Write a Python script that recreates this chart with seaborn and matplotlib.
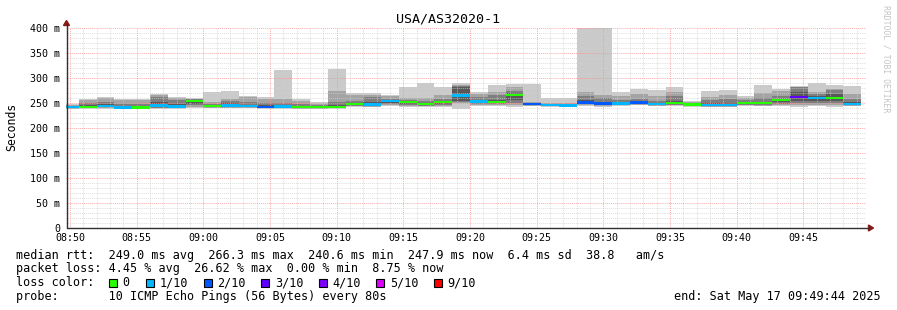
import numpy as np
import pandas as pd
import matplotlib
matplotlib.use("Agg")
import matplotlib.pyplot as plt
import seaborn as sns
from matplotlib.lines import Line2D
from matplotlib.patches import Rectangle, Polygon
from matplotlib.ticker import MultipleLocator, FuncFormatter

# ---------------- data ----------------
title = "USA/AS32020-1"
sample_start = pd.date_range("2025-05-17 08:49:20", periods=45, freq="80s")
step_seconds = 80

ping1 = [238,239,239,238,238,239,239,240,240,240,240,239,239,238,238,239,243,242,244,243,243,243,239,244,244,243,244,243,242,244,243,245,246,244,245,243,242,242,245,244,245,243,244,243,244]
ping2 = [239,240,240,239,239,240,240,242,241,241,241,240,240,239,239,240,244,243,246,245,244,245,250,246,246,246,245,244,243,246,245,246,247,245,246,244,243,243,246,245,246,246,246,246,245]
ping3 = [240,241,242,240,240,241,241,246,242,243,242,241,241,240,240,241,245,244,248,247,245,247,252,248,248,250,246,244.5,243.5,248,246,247,248,246,247,245,244,244,247,247,249,250,250,250,246]
ping4 = [241,241.5,243,241,241,243,242,249,243,244,243,242,242,241,241,241.5,246,245,250,249,247,249,255,250,250,256,247,245,244,250,248,248,249,247,248,246,245,245,248,248,252,255,255,255,247]
ping5 = [242,242,244,241,241,244,243,253,244,245,244,242,242.5,242,242,242,248,247,253,251.5,248,251.5,264.5,252.5,251.5,265.5,247.5,245.5,244.5,251,249,249,251,248,250,246.5,246,246,250,250,255.5,261,259.5,260,247.5]
ping6 = [242,242.5,245,242,242,246,243.5,255,244.5,246,244.5,243,243,242.5,242.5,242.5,248.5,247.5,254,252.5,248.5,252,265.5,253,252.5,266.5,248,246,245,251.5,249.5,249.5,251.5,248.5,250.5,247,246.5,246.5,250.5,250.5,256.5,262,260.5,261,248]
ping7 = [243,246,248,244,245,252,248,256,246,250,247,246,246,244,244,246,251,252,256,254,251,254,282,256,256,270,249,247,246,256,253,252,254,251,254,248,250,251,253,253,259,272,264,268,252]
ping8 = [244,250,252,248,249,262,256,258,249,255,252,251,251,248,246,252,254,262,259,257,255,258,285,262,266,275,251,249,248,265,260,256,258,255,264,250,256,258,256,260,265,282,268,276,258]
ping9 = [246,256,260,256,256,266,260,259,252,259,262,258,259,255,249,274,266,266,264,260,260,266,287,268,273,282,253,251,250,273,266,264,269,265,272,252,262,266,260,271,275,283,273,279,268]
ping10 = [249,258,262,259,259,269,262,260,273,275,264,262,317,259,252,319,271,270,267,282,290,283,290,272,286,289,288,261,261,420,420,273,279,277,282,254,274,277,264,286,279,284,290,286,284]

median_rtt = [242,242,244.5,241.3,241.3,245,243,254.3,244,245.3,244,242.4,242.7,242,242,242,248,247,253.6,252,248.3,251.6,265,252.7,252,266,247.7,245.6,244.7,251,249,249.3,251,248.3,250,246.7,246,246,250.3,250,256,261.6,260,260.4,247.6]
loss_count = [1,0,1,1,0,1,1,0,0,1,1,2,1,0,0,0,0,1,1,0,0,0,1,1,0,0,2,1,1,2,2,1,2,1,0,0,1,1,0,0,0,3,1,0,1]

loss_labels = ["0", "1/10", "2/10", "3/10", "4/10", "5/10", "9/10"]
loss_keys = [0, 1, 2, 3, 4, 5, 9]
loss_hex = ["#26ff00", "#00b8ff", "#0059ff", "#5e00ff", "#7e00ff", "#dd00ff", "#ff0000"]

y_ticks = [0, 50, 100, 150, 200, 250, 300, 350, 400]

stats_rtt = "median rtt:  249.0 ms avg  266.3 ms max  240.6 ms min  247.9 ms now  6.4 ms sd  38.8   am/s"
stats_loss = "packet loss: 4.45 % avg  26.62 % max  0.00 % min  8.75 % now"
probe_text = "probe:       10 ICMP Echo Pings (56 Bytes) every 80s"
end_text = "end: Sat May 17 09:49:44 2025"
watermark = "RRDTOOL / TOBI OETIKER"

# ---------------- build table ----------------
ref = pd.Timestamp("2025-05-17 08:50:00")
df = pd.DataFrame({
    "start": (sample_start - ref).total_seconds(),
    "p1": ping1, "p2": ping2, "p3": ping3, "p4": ping4, "p5": ping5,
    "p6": ping6, "p7": ping7, "p8": ping8, "p9": ping9, "p10": ping10,
    "median": median_rtt, "loss": loss_count,
})
color_of_loss = dict(zip(loss_keys, loss_hex))

# ---------------- figure ----------------
sns.set_theme(style="white")
plt.rcParams['font.family'] = ['DejaVu Sans Mono', 'DejaVu Sans']

W, H = 897, 310
fig = plt.figure(figsize=(W / 100, H / 100), dpi=100)
fig.patch.set_facecolor("white")
ax = fig.add_axes([66.4 / W, (H - 228) / H, 800 / W, 200 / H])
ax.set_facecolor("white")

# smoke bands (SmokePing style)
smoke_grays = ["#cacaca", "#a4a4a4", "#7e7e7e", "#585858", "#323232"]
for i, g in enumerate(smoke_grays):
    lo = df[f"p{i + 1}"]
    hi = df[f"p{10 - i}"]
    ax.bar(df["start"], hi - lo, bottom=lo, width=step_seconds, align="edge",
           color=g, linewidth=0, zorder=1)

# median line coloured by loss
med_h = 5.0
ax.bar(df["start"], med_h, bottom=df["median"] - med_h / 2, width=step_seconds,
       align="edge", color=[color_of_loss[l] for l in df["loss"]],
       linewidth=0, zorder=3)

ax.set_xlim(-16, 3584)
ax.set_ylim(0, 400)

ax.yaxis.set_major_locator(MultipleLocator(50))
ax.yaxis.set_minor_locator(MultipleLocator(10))
ax.xaxis.set_major_locator(MultipleLocator(300))
ax.xaxis.set_minor_locator(MultipleLocator(60))
ax.set_yticks(y_ticks)
ax.yaxis.set_major_formatter(FuncFormatter(lambda v, p: "0" if v == 0 else f"{int(v)} m"))
ax.xaxis.set_major_formatter(FuncFormatter(
    lambda v, p: (ref + pd.Timedelta(seconds=v)).strftime("%H:%M")))

ax.set_axisbelow(False)
ax.grid(which="minor", color="#d0d0d0", linestyle=(0, (1, 1)), linewidth=0.7, alpha=0.7)
ax.grid(which="major", color="#ff9090", linestyle=(0, (1, 1)), linewidth=0.7, alpha=0.75)
ax.tick_params(axis="both", which="both", length=0)
ax.tick_params(axis="y", pad=4.6, labelsize=7.2, labelcolor="black")
ax.tick_params(axis="x", pad=3.4, labelsize=7.2, labelcolor="black")
for s in ax.spines.values():
    s.set_visible(False)

def fx(px):
    return px / W

def fy(py):
    return 1 - py / H

# axis lines and arrows
fig.add_artist(Line2D([fx(66.5), fx(869)], [fy(228), fy(228)], color="#303030", lw=1))
fig.add_artist(Line2D([fx(66.5), fx(66.5)], [fy(228), fy(24)], color="#303030", lw=1))
fig.add_artist(Polygon([[fx(63.5), fy(25.5)], [fx(69.5), fy(25.5)], [fx(66.5), fy(20.5)]],
                       closed=True, color="#8b1a1a", transform=fig.transFigure))
fig.add_artist(Polygon([[fx(868.5), fy(225)], [fx(868.5), fy(231)], [fx(873.5), fy(228)]],
                       closed=True, color="#8b1a1a", transform=fig.transFigure))

# title and labels
fig.text(fx(448), fy(23), title, ha="center", va="baseline", fontsize=9.6, color="black")
fig.text(fx(12), fy(127), "Seconds", rotation=90, ha="center", va="center",
         fontsize=8.3, color="black")
fig.text(fx(886), fy(59), watermark, rotation=270, ha="center", va="center",
         fontsize=5.9, color="#c4c4c4")

# legend block
fs = 8.5
fig.text(fx(16), fy(258.5), stats_rtt, ha="left", va="baseline", fontsize=fs, color="black")
fig.text(fx(16), fy(272.3), stats_loss, ha="left", va="baseline", fontsize=fs, color="black")
fig.text(fx(16), fy(286.3), "loss color:", ha="left", va="baseline", fontsize=fs, color="black")
square_x = [108.5, 146, 203.5, 261, 318.5, 376, 433.5]
label_x = [122.5, 160, 217.5, 275, 332.5, 390, 447.5]
for sx, lx, lab, col in zip(square_x, label_x, loss_labels, loss_hex):
    fig.add_artist(Rectangle((fx(sx), fy(286.5)), 8 / W, 8 / H, transform=fig.transFigure,
                             facecolor=col, edgecolor="black", linewidth=0.8))
    fig.text(fx(lx), fy(286.3), lab, ha="left", va="baseline", fontsize=fs, color="black")
fig.text(fx(16), fy(300), probe_text, ha="left", va="baseline", fontsize=fs, color="black")
fig.text(fx(881), fy(300), end_text, ha="right", va="baseline", fontsize=fs, color="black")

fig.savefig("out.png", dpi=100, facecolor="white")
